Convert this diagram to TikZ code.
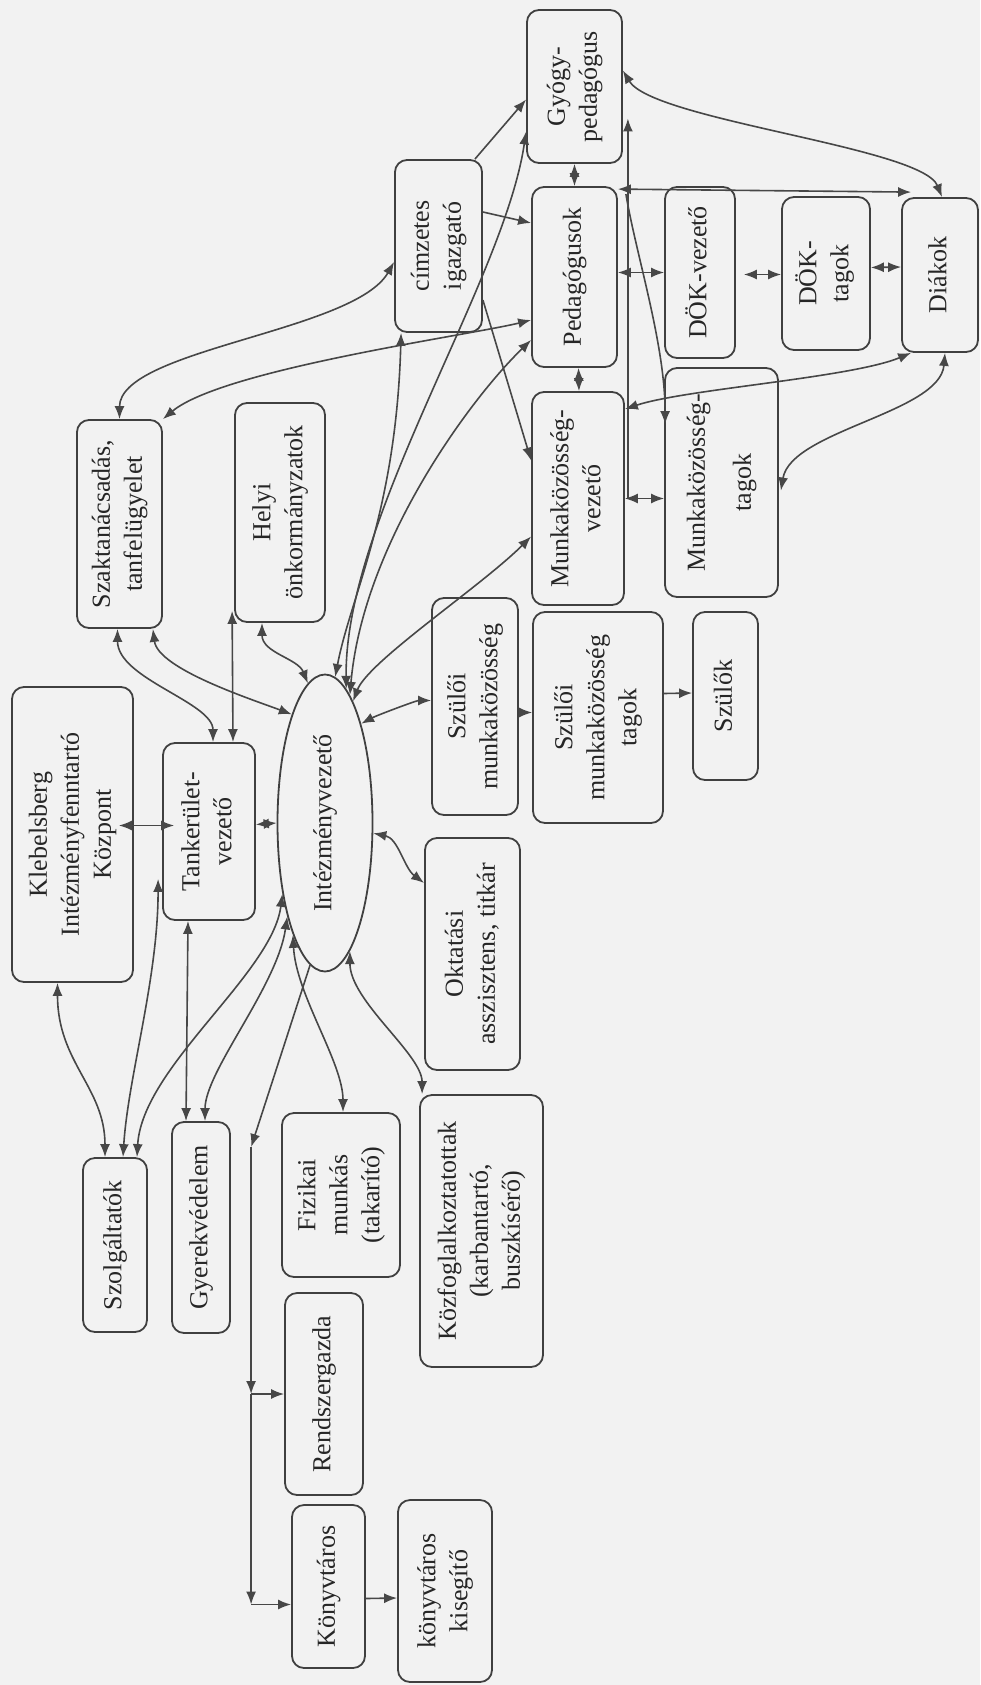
\documentclass[tikz,border=0pt]{standalone}
\usepackage{fontspec}
\setmainfont{Liberation Serif}
\usepackage{graphicx}
\usetikzlibrary{shapes.geometric,arrows.meta,calc}

\newcommand{\rtxt}[1]{\rotatebox{90}{\begin{tabular}{@{}c@{}}#1\end{tabular}}}

\tikzset{
  box/.style={draw=black!75, line width=0.9pt, rounded corners=6pt, inner sep=0pt,
    text=black!85, font=\fontsize{13}{16}\selectfont},
  oval/.style={draw=black!75, line width=0.9pt, ellipse, inner sep=0pt,
    text=black!85, font=\fontsize{13}{16}\selectfont},
  sz/.style 2 args={minimum width=#1*0.5pt, minimum height=#2*0.5pt},
  arrone/.style={draw=black!72, line width=0.8pt, -{Latex[length=6.5pt,width=5pt]}},
  arrtwo/.style={draw=black!72, line width=0.8pt, {Latex[length=6.5pt,width=5pt]}-{Latex[length=6.5pt,width=5pt]}}
}

\begin{document}
\begin{tikzpicture}[x=0.5pt, y=-0.5pt]
\fill[black!5] (0,0) rectangle (980,1685);
\useasboundingbox (0,0) rectangle (980,1685);

% felso sor
\node[box, sz={87}{172}] (cim) at (438.5,246) {\rtxt{címzetes\\igazgató}};
\node[box, sz={95}{153}] (gyogy) at (574.5,86.5) {\rtxt{Gyógy-\\pedagógus}};
\node[box, sz={85}{180}] (ped) at (574.5,277) {\rtxt{Pedagógusok}};
\node[box, sz={70}{171}] (dokv) at (700,272.5) {\rtxt{DÖK-vezető}};
\node[box, sz={88}{153}] (doktag) at (826,273.5) {\rtxt{DÖK-\\tagok}};
\node[box, sz={76}{154}] (diak) at (940,275) {\rtxt{Diákok}};
\node[box, sz={92}{213}] (mkv) at (578,498.5) {\rtxt{Munkaközösség-\\vezető}};
\node[box, sz={113}{229}] (mktag) at (721.5,482.5) {\rtxt{Munkaközösség-\\[7pt]tagok}};
\node[box, sz={85}{208}] (szakt) at (119.5,524) {\rtxt{Szaktanácsadás,\\tanfelügyelet}};
\node[box, sz={90}{219}] (helyi) at (280,512.5) {\rtxt{Helyi\\önkormányzatok}};

% kozep
\node[box, sz={121}{295}] (kik) at (72.5,834.5) {\rtxt{Klebelsberg\\Intézményfenntartó\\Központ}};
\node[box, sz={92}{177}] (tank) at (209,831.5) {\rtxt{Tankerület-\\vezető}};
\node[oval, sz={95}{297}] (iv) at (325,823) {\rtxt{Intézményvezető}};
\node[box, sz={86}{217}] (szm) at (475,706.5) {\rtxt{Szülői\\munkaközösség}};
\node[box, sz={130}{211}] (szmt) at (598,717.5) {\rtxt{Szülői\\munkaközösség\\tagok}};
\node[box, sz={65}{168}] (szulok) at (725.5,696) {\rtxt{Szülők}};
\node[box, sz={95}{232}] (okt) at (472.5,954) {\rtxt{Oktatási\\asszisztens, titkár}};

% also resz
\node[box, sz={64}{174}] (szolg) at (115,1245) {\rtxt{Szolgáltatók}};
\node[box, sz={58}{211}] (gyerek) at (201,1227.5) {\rtxt{Gyerekvédelem}};
\node[box, sz={118}{164}] (fiz) at (341,1195) {\rtxt{Fizikai\\munkás\\(takarító)}};
\node[box, sz={123}{272}] (kozf) at (481.5,1231) {\rtxt{Közfoglalkoztatottak\\(karbantartó,\\buszkísérő)}};
\node[box, sz={78}{202}] (rendsz) at (324,1394) {\rtxt{Rendszergazda}};
\node[box, sz={73}{163}] (konyv) at (328.5,1586.5) {\rtxt{Könyvtáros}};
\node[box, sz={94}{182}] (kis) at (445,1591) {\rtxt{könyvtáros\\kisegítő}};

% kapcsolatok felul
\draw[arrtwo] (szakt.north) .. controls +(0,-70) and +(-40,70) .. ($(cim.west)+(0,16)$);
\draw[arrtwo] (szakt.north east) .. controls +(60,-50) and +(-60,15) .. ($(ped.west)+(0,43)$);
\draw[arrone] ($(cim.east)+(0,-34)$) -- ($(ped.west)+(0,-54)$);
\draw[arrone] ($(cim.north east)+(-8,0)$) -- ($(gyogy.west)+(0,13)$);
\draw[arrone] ($(cim.east)+(0,54)$) -- ($(mkv.west)+(0,-38)$);
\draw[arrtwo] ($(cim.south west)+(7,0)$) .. controls +(-5,180) and +(15,-80) .. (iv.86);
\draw[arrtwo] (iv.81) .. controls +(-2,-170) and +(-22,150) .. ($(gyogy.west)+(0,45)$);
\draw[arrtwo] (iv.79) .. controls +(13,-150) and +(-62,60) .. ($(ped.west)+(0,63)$);
\draw[arrtwo] (iv.77) .. controls +(15,-40) and +(-50,50) .. ($(mkv.west)+(0,38)$);
\draw[arrtwo] (iv.70) .. controls +(15,-8) and +(-15,0) .. ($(szm.west)+(0,-6)$);

% bal oldal
\draw[arrtwo] ($(szakt.south)+(-2,0)$) .. controls +(0,50) and +(0,-40) .. ($(tank.north)+(4,0)$);
\draw[arrtwo] ($(szakt.south east)+(-10,0)$) .. controls +(5,40) and +(-40,-15) .. (iv.107);
\draw[arrtwo] ($(helyi.south)+(-18,0)$) .. controls +(0,30) and +(-10,-25) .. (iv.97);
\draw[arrtwo] ($(tank.north)+(24,0)$) -- ($(helyi.south west)+(-2,-12)$);
\draw[arrtwo] ($(kik.east)+(-15,-9)$) -- ($(tank.west)+(12,-6)$);
\draw[arrtwo] ($(tank.east)+(0,-7)$) -- (iv.west);
\draw[arrtwo] ($(kik.south)+(-15,0)$) .. controls +(0,80) and +(0,-70) .. ($(szolg.north)+(-10,0)$);
\draw[arrtwo] ($(tank.south west)+(-4,-42)$) .. controls +(0,100) and +(5,-80) .. ($(szolg.north)+(8,0)$);
\draw[arrtwo] (iv.-121) .. controls +(-10,80) and +(5,-90) .. ($(szolg.north)+(22,0)$);
\draw[arrtwo] (iv.-112) .. controls +(-10,70) and +(0,-50) .. ($(gyerek.north)+(4,0)$);
\draw[arrtwo] ($(tank.south)+(-21,0)$) -- ($(gyerek.north)+(-15,0)$);
\draw[arrtwo] (iv.-106) .. controls +(3,60) and +(0,-50) .. ($(fiz.north)+(2,0)$);
\draw[arrtwo] (iv.-79) .. controls +(0,50) and +(0,-40) .. ($(kozf.north west)+(3,0)$);
\draw[arrtwo] (iv.-12) .. controls +(25,5) and +(-20,-15) .. ($(okt.west)+(0,-71)$);

% rendszergazda, konyvtar
\coordinate (bt) at ($(rendsz.west)+(-33,-247)$);
\coordinate (bm) at (bt |- rendsz.west);
\coordinate (bb) at ($(bt |- konyv.west)+(0,18)$);
\draw[arrone] (iv.-96) -- (bt);
\draw[arrone] (bt) -- (bm);
\draw[arrone] (bm) -- (bb);
\draw[arrone] (bm) -- (rendsz.west);
\draw[arrone] (bb) -- (bb -| konyv.west);
\draw[arrone] ($(konyv.east)+(0,12)$) -- ($(kis.west)+(0,7)$);

% szulok
\draw[arrone] ($(szm.east)+(0,6)$) -- ($(szmt.west)+(0,-5)$);
\draw[arrone] ($(szmt.east)+(0,-24)$) -- ($(szulok.west)+(0,-3)$);

% jobb oldal
\draw[arrtwo] (gyogy.south) -- (ped.north);
\draw[arrtwo] ($(ped.south)+(4,0)$) -- ($(mkv.north)+(1,0)$);
\draw[arrtwo] ($(ped.north east)+(0,3)$) -- ($(diak.north west)+(10,-5)$);
\draw[arrtwo] ($(gyogy.east)+(0,-16)$) .. controls +(30,50) and +(-20,-50) .. ($(diak.north)+(2,0)$);
\coordinate (rtop) at ($(gyogy.east)+(5,32)$);
\coordinate (rj1) at (rtop |- dokv.west);
\coordinate (rj2) at (rtop |- mkv.east);
\draw[arrone] (rj2) -- (rtop);
\draw[arrone] (rj1) -- (rj1 -| ped.east);
\draw[arrone] (rj1) -- (rj1 -| dokv.west);
\draw[arrone] (rj2) -- (rj2 -| mkv.east);
\draw[arrone] (rj2) -- (rj2 -| mktag.west);
\draw[arrone] ($(ped.north east)+(8,8)$) .. controls +(10,60) and +(0,-80) .. ($(mktag.north west)+(1,57)$);
\draw[arrtwo] ($(doktag.east)+(0,-6)$) -- ($(diak.west)+(0,-8)$);
\draw[arrtwo] ($(dokv.east)+(8,2)$) -- ($(doktag.west)+(0,1)$);
\draw[arrtwo] ($(diak.south west)+(10,0)$) .. controls +(-60,25) and +(60,-20) .. ($(mkv.north east)+(0,18)$);
\draw[arrtwo] ($(diak.south)+(5,0)$) .. controls +(-5,60) and +(10,-60) .. ($(mktag.east)+(2,8)$);

\end{tikzpicture}
\end{document}
